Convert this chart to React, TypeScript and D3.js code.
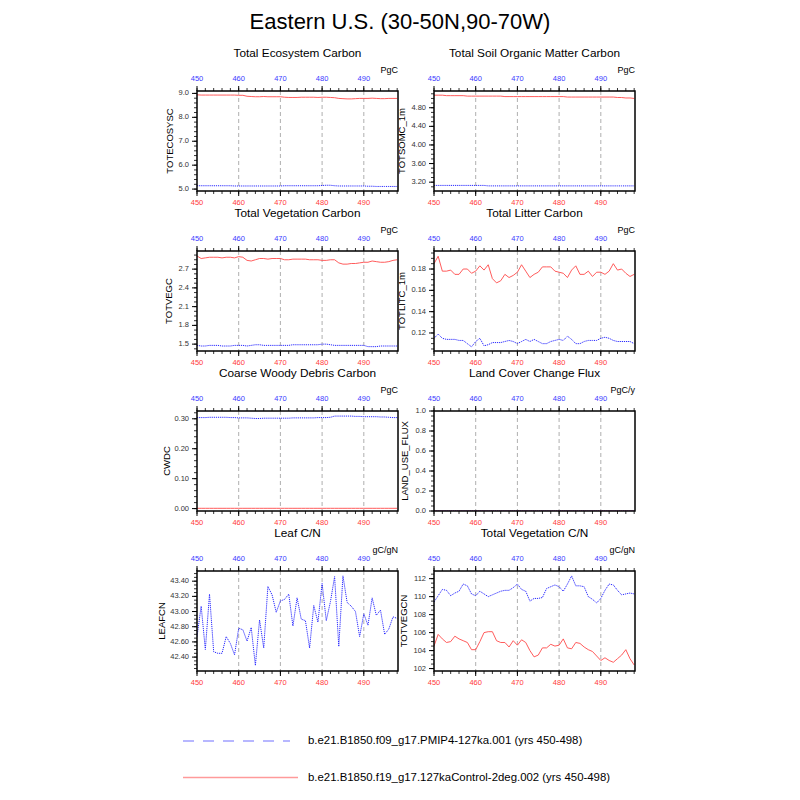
import React from "react";
import * as d3 from "d3";

const YEARS = d3.range(450, 499);

const TOTECOSYSC_RED = [8.94,8.93,8.93,8.93,8.93,8.93,8.93,8.93,8.93,8.93,8.92,8.92,8.88,8.87,8.86,8.86,8.87,8.86,8.86,8.86,8.86,8.84,8.83,8.83,8.83,8.84,8.84,8.84,8.84,8.83,8.84,8.84,8.83,8.82,8.79,8.78,8.77,8.77,8.78,8.79,8.79,8.79,8.80,8.79,8.78,8.78,8.79,8.79,8.79];
const TOTECOSYSC_BLUE = [5.14,5.14,5.14,5.14,5.14,5.14,5.14,5.14,5.14,5.13,5.13,5.13,5.13,5.13,5.13,5.13,5.13,5.13,5.13,5.13,5.13,5.14,5.14,5.14,5.14,5.14,5.14,5.14,5.14,5.14,5.15,5.16,5.16,5.14,5.13,5.13,5.13,5.13,5.13,5.13,5.13,5.12,5.12,5.11,5.11,5.11,5.11,5.11,5.11];

const TOTSOMC_RED = [5.07,5.07,5.07,5.06,5.06,5.06,5.06,5.06,5.05,5.05,5.05,5.05,5.05,5.05,5.05,5.05,5.05,5.04,5.04,5.04,5.04,5.04,5.04,5.04,5.04,5.04,5.04,5.04,5.04,5.04,5.04,5.04,5.03,5.03,5.03,5.03,5.03,5.03,5.03,5.03,5.03,5.03,5.03,5.03,5.02,5.02,5.01,5.01,5.00];
const TOTSOMC_BLUE = [3.13,3.13,3.13,3.13,3.13,3.13,3.13,3.13,3.13,3.13,3.13,3.13,3.13,3.12,3.12,3.12,3.12,3.12,3.12,3.12,3.12,3.12,3.12,3.12,3.12,3.12,3.12,3.12,3.12,3.12,3.12,3.12,3.12,3.12,3.12,3.12,3.12,3.12,3.12,3.12,3.12,3.12,3.12,3.12,3.12,3.12,3.12,3.12,3.12];

const TOTVEGC_RED = [2.91,2.87,2.88,2.89,2.89,2.89,2.88,2.89,2.89,2.88,2.90,2.89,2.84,2.83,2.85,2.87,2.87,2.86,2.87,2.87,2.87,2.85,2.85,2.86,2.86,2.86,2.86,2.85,2.85,2.85,2.84,2.84,2.85,2.85,2.80,2.78,2.78,2.79,2.79,2.80,2.81,2.81,2.83,2.82,2.81,2.81,2.82,2.84,2.85];
const TOTVEGC_BLUE = [1.48,1.47,1.47,1.48,1.48,1.48,1.47,1.47,1.47,1.48,1.48,1.48,1.47,1.48,1.49,1.49,1.48,1.48,1.48,1.48,1.48,1.48,1.48,1.49,1.49,1.49,1.49,1.49,1.49,1.49,1.50,1.50,1.49,1.48,1.48,1.48,1.48,1.48,1.48,1.48,1.48,1.46,1.46,1.46,1.47,1.47,1.47,1.47,1.47];

const TOTLITC_RED = [0.185,0.192,0.178,0.178,0.179,0.175,0.175,0.180,0.180,0.176,0.178,0.183,0.179,0.184,0.171,0.167,0.169,0.175,0.172,0.174,0.177,0.184,0.178,0.172,0.175,0.177,0.182,0.182,0.182,0.178,0.177,0.176,0.172,0.179,0.183,0.175,0.175,0.178,0.173,0.177,0.177,0.175,0.178,0.185,0.179,0.180,0.176,0.173,0.175];
const TOTLITC_BLUE = [0.115,0.119,0.115,0.114,0.114,0.114,0.113,0.113,0.110,0.107,0.112,0.115,0.108,0.109,0.111,0.111,0.111,0.112,0.113,0.112,0.110,0.112,0.114,0.112,0.114,0.112,0.110,0.110,0.112,0.113,0.114,0.113,0.117,0.114,0.110,0.110,0.112,0.113,0.113,0.113,0.115,0.116,0.115,0.113,0.112,0.112,0.112,0.112,0.110];

const CWDC_RED = [0.001,0.001,0.001,0.001,0.001,0.001,0.001,0.001,0.001,0.001,0.001,0.001,0.001,0.001,0.001,0.001,0.001,0.001,0.001,0.001,0.001,0.001,0.001,0.001,0.001,0.001,0.001,0.001,0.001,0.001,0.001,0.001,0.001,0.001,0.001,0.001,0.001,0.001,0.001,0.001,0.001,0.001,0.001,0.001,0.001,0.001,0.001,0.001,0.001];
const CWDC_BLUE = [0.304,0.304,0.304,0.305,0.305,0.305,0.305,0.305,0.304,0.304,0.303,0.303,0.303,0.302,0.301,0.301,0.302,0.302,0.302,0.302,0.302,0.302,0.302,0.303,0.303,0.303,0.303,0.303,0.303,0.304,0.304,0.304,0.305,0.309,0.309,0.309,0.309,0.309,0.308,0.308,0.307,0.307,0.307,0.307,0.306,0.306,0.305,0.304,0.304];

const LUF_RED = [0,0,0,0,0,0,0,0,0,0,0,0,0,0,0,0,0,0,0,0,0,0,0,0,0,0,0,0,0,0,0,0,0,0,0,0,0,0,0,0,0,0,0,0,0,0,0,0,0];
const LUF_BLUE = [0,0,0,0,0,0,0,0,0,0,0,0,0,0,0,0,0,0,0,0,0,0,0,0,0,0,0,0,0,0,0,0,0,0,0,0,0,0,0,0,0,0,0,0,0,0,0,0,0];

const LEAFCN_BLUE = [42.67,43.07,42.50,43.23,42.47,42.45,42.45,42.67,42.58,42.43,42.78,42.76,42.61,42.79,42.29,42.89,42.52,43.33,43.22,42.99,43.14,43.16,43.23,42.81,43.18,42.90,42.88,42.52,43.08,42.86,43.37,42.88,43.13,43.46,42.54,43.47,43.12,43.07,43.00,42.67,42.97,42.82,43.18,42.95,43.02,42.70,42.77,42.93,42.91];

const TOTVEGCN_BLUE = [109.4,110.1,110.8,110.7,110.1,110.4,110.6,111.4,111.2,110.3,110.1,110.6,110.3,110.0,110.2,110.4,110.6,110.7,110.7,111.0,111.4,110.8,110.6,109.5,109.8,109.8,109.9,110.9,111.1,111.3,111.1,110.6,111.4,112.3,111.2,111.2,111.1,110.0,109.7,109.3,109.8,110.7,111.4,111.3,110.7,110.2,110.3,110.4,110.3];
const TOTVEGCN_RED = [104.5,105.8,105.3,104.9,105.0,105.6,105.3,105.1,104.9,104.1,104.1,105.0,106.0,106.1,106.1,105.1,104.9,104.9,104.4,105.1,104.6,105.2,104.9,104.0,103.3,103.5,104.3,104.3,104.7,104.5,104.6,105.3,104.3,104.2,104.9,104.8,104.4,104.1,103.9,103.4,102.9,103.2,102.9,102.7,103.1,103.5,104.1,103.1,102.4];

const X_TICKS = [450, 460, 470, 480, 490];
const LEGEND_LABELS = [
  "b.e21.B1850.f09_g17.PMIP4-127ka.001 (yrs 450-498)",
  "b.e21.B1850.f19_g17.127kaControl-2deg.002 (yrs 450-498)",
];

type Panel = {
  title: string; yLabel: string; unit: string;
  yDomain: [number, number]; yStep: number; yMinor: number; fmt: string;
  blue: number[] | null; red: number[] | null; yLabOff: number;
};

const PANELS: Panel[] = [
  { title: "Total Ecosystem Carbon", yLabel: "TOTECOSYSC", unit: "PgC", yDomain: [4.92, 9.1], yStep: 1, yMinor: 0.2, fmt: ".1f", blue: TOTECOSYSC_BLUE, red: TOTECOSYSC_RED, yLabOff: 27 },
  { title: "Total Soil Organic Matter Carbon", yLabel: "TOTSOMC_1m", unit: "PgC", yDomain: [3.01, 5.16], yStep: 0.4, yMinor: 0.1, fmt: ".2f", blue: TOTSOMC_BLUE, red: TOTSOMC_RED, yLabOff: 32 },
  { title: "Total Vegetation Carbon", yLabel: "TOTVEGC", unit: "PgC", yDomain: [1.39, 2.99], yStep: 0.3, yMinor: 0.075, fmt: ".1f", blue: TOTVEGC_BLUE, red: TOTVEGC_RED, yLabOff: 28 },
  { title: "Total Litter Carbon", yLabel: "TOTLITC_1m", unit: "PgC", yDomain: [0.1031, 0.1969], yStep: 0.02, yMinor: 0.005, fmt: ".2f", blue: TOTLITC_BLUE, red: TOTLITC_RED, yLabOff: 32 },
  { title: "Coarse Woody Debris Carbon", yLabel: "CWDC", unit: "PgC", yDomain: [-0.008, 0.326], yStep: 0.1, yMinor: 0.02, fmt: ".2f", blue: CWDC_BLUE, red: CWDC_RED, yLabOff: 30 },
  { title: "Land Cover Change Flux", yLabel: "LAND_USE_FLUX", unit: "PgC/y", yDomain: [0, 1], yStep: 0.2, yMinor: 0.05, fmt: ".1f", blue: LUF_BLUE, red: LUF_RED, yLabOff: 29 },
  { title: "Leaf C/N", yLabel: "LEAFCN", unit: "gC/gN", yDomain: [42.217, 43.534], yStep: 0.2, yMinor: 0.05, fmt: ".2f", blue: LEAFCN_BLUE, red: null, yLabOff: 35 },
  { title: "Total Vegetation C/N", yLabel: "TOTVEGCN", unit: "gC/gN", yDomain: [101.73, 112.85], yStep: 2, yMinor: 0.5, fmt: ".0f", blue: TOTVEGCN_BLUE, red: TOTVEGCN_RED, yLabOff: 30 },
];

const COL_LEFT = [197, 434];
const ROW_TOP = [91, 251, 411, 571];
const PW = 201;
const PH = 100;
const FONT = "'Liberation Sans', Arial, Helvetica, sans-serif";
const RED = "#ff4a4a";
const BLUE = "#2a2aff";

function rangeStep(a: number, b: number, s: number) {
  const out: number[] = [];
  const start = Math.ceil(a / s - 1e-6);
  for (let k = start; k * s <= b + 1e-9; k++) out.push(+(k * s).toFixed(6));
  return out;
}

function PanelView({ p, idx }: { p: Panel; idx: number }) {
  const left = COL_LEFT[idx % 2];
  const top = ROW_TOP[Math.floor(idx / 2)];
  const x = d3.scaleLinear().domain([450, 498.2]).range([left, left + PW]);
  const y = d3.scaleLinear().domain(p.yDomain).range([top + PH, top]);
  const bottom = top + PH;
  const line = d3.line<number>().x((_, i) => x(YEARS[i])).y((v) => y(v));
  const yMajor = rangeStep(p.yDomain[0], p.yDomain[1], p.yStep);
  const yMinor = rangeStep(p.yDomain[0], p.yDomain[1], p.yMinor);
  const xMinor = rangeStep(450, 498.2, 2);
  const f = d3.format(p.fmt);
  const clipId = `clip${idx}`;
  return (
    <g>
      <defs>
        <clipPath id={clipId}><rect x={left} y={top} width={PW} height={PH} /></clipPath>
      </defs>
      <text x={left + PW / 2} y={top - 37} textAnchor="middle" dominantBaseline="middle" fontSize={11.8} fontFamily={FONT}>{p.title}</text>
      <text x={left + PW} y={top - 20} textAnchor="end" dominantBaseline="middle" fontSize={9} fontFamily={FONT}>{p.unit}</text>
      {X_TICKS.filter((t) => t > 450).map((t) => (
        <line key={"g" + t} x1={x(t)} x2={x(t)} y1={top} y2={bottom} stroke="#9a9a9a" strokeWidth={0.8} strokeDasharray="4,3" />
      ))}
      <g clipPath={`url(#${clipId})`}>
        {p.red && <path d={line(p.red) || ""} fill="none" stroke={RED} strokeWidth={0.9} />}
        {p.blue && <path d={line(p.blue) || ""} fill="none" stroke={BLUE} strokeWidth={1} strokeDasharray="1.2,0.9" />}
      </g>
      {xMinor.map((t) => (
        <g key={"xm" + t}>
          <line x1={x(t)} x2={x(t)} y1={top} y2={top - 3} stroke="#000" strokeWidth={0.8} />
          <line x1={x(t)} x2={x(t)} y1={bottom} y2={bottom + 3} stroke="#000" strokeWidth={0.8} />
        </g>
      ))}
      {X_TICKS.map((t) => (
        <g key={"xt" + t}>
          <line x1={x(t)} x2={x(t)} y1={top} y2={top - 5} stroke="#000" strokeWidth={1} />
          <line x1={x(t)} x2={x(t)} y1={bottom} y2={bottom + 5} stroke="#000" strokeWidth={1} />
          <text x={x(t)} y={top - 11.5} textAnchor="middle" dominantBaseline="middle" fontSize={7.5} fill="#3a3aff" fontFamily={FONT}>{t}</text>
          <text x={x(t)} y={bottom + 12.5} textAnchor="middle" dominantBaseline="middle" fontSize={7.5} fill="#ff3a3a" fontFamily={FONT}>{t}</text>
        </g>
      ))}
      {yMinor.map((t) => (
        <line key={"ym" + t} x1={left} x2={left - 3} y1={y(t)} y2={y(t)} stroke="#000" strokeWidth={0.8} />
      ))}
      {yMajor.map((t) => (
        <g key={"yt" + t}>
          <line x1={left} x2={left - 5} y1={y(t)} y2={y(t)} stroke="#000" strokeWidth={1} />
          <text x={left - 8} y={y(t)} textAnchor="end" dominantBaseline="middle" fontSize={7.5} fill="#333" fontFamily={FONT}>{f(t)}</text>
        </g>
      ))}
      <rect x={left} y={top} width={PW} height={PH} fill="none" stroke="#000" strokeWidth={1.5} />
      <text transform={`translate(${left - p.yLabOff},${top + PH / 2}) rotate(-90)`} textAnchor="middle" dominantBaseline="middle" fontSize={9.5} fontFamily={FONT}>{p.yLabel}</text>
    </g>
  );
}

export default function App() {
  return (
    <svg width={800} height={800} style={{ position: "absolute", left: 0, top: 0, background: "#fff" }}>
      <rect width={800} height={800} fill="#fff" />
      <text x={400} y={23} textAnchor="middle" dominantBaseline="middle" fontSize={22} fontFamily={FONT}>Eastern U.S. (30-50N,90-70W)</text>
      {PANELS.map((p, i) => <PanelView key={i} p={p} idx={i} />)}
      <line x1={183} x2={290} y1={741} y2={741} stroke="#a0a0ff" strokeWidth={1.6} strokeDasharray="11,9" />
      <text x={308} y={741} dominantBaseline="middle" fontSize={11.4} fontFamily={FONT}>{LEGEND_LABELS[0]}</text>
      <line x1={183} x2={298} y1={777.5} y2={777.5} stroke="#ff9a9a" strokeWidth={1.6} />
      <text x={308} y={777.5} dominantBaseline="middle" fontSize={11.4} fontFamily={FONT}>{LEGEND_LABELS[1]}</text>
    </svg>
  );
}
